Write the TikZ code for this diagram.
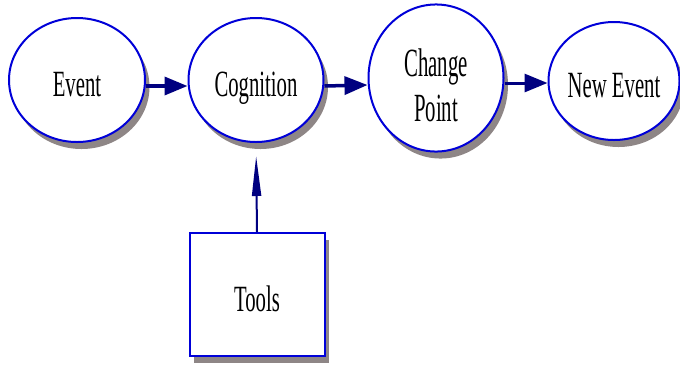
\documentclass[tikz,border=0pt]{standalone}
\usepackage{fontspec}
\setmainfont{Liberation Serif}
\newfontfamily\narrowserif[FakeStretch=0.56]{Liberation Serif}
\newfontfamily\narrowerserif[FakeStretch=0.52]{Liberation Serif}
\usetikzlibrary{shapes.geometric,shadows,arrows.meta,calc}

\definecolor{rimblue}{HTML}{0000D8}
\definecolor{flownavy}{HTML}{000080}
\definecolor{shadowgrey}{HTML}{8E8686}

\begin{document}
\begin{tikzpicture}[x=1pt,y=-1pt,
  boxshadow/.style={general shadow={fill=shadowgrey, shadow xshift=4.5pt, shadow yshift=-7pt}},
  % a tall fixed text box puts the capitals a little below each shape's centre
  labeltext/.style={font=\narrowserif\fontsize{37}{45}\selectfont, text=black,
    text height=42pt, text depth=9pt},
  stage/.style={ellipse, draw=rimblue, line width=2pt, fill=white, inner sep=0pt,
    boxshadow, labeltext},
  toolbox/.style={rectangle, draw=rimblue, line width=2pt, fill=white, inner sep=0pt,
    boxshadow, labeltext},
  flow/.style={draw=flownavy, line width=3.5pt, -{Triangle[length=23pt,width=18pt]}},
  feed/.style={draw=flownavy, line width=2pt, -{Triangle[length=40pt,width=9pt]}}
]
\useasboundingbox (0,0) rectangle (680,368);

\node[stage, minimum width=136pt, minimum height=124pt] (ev)  at (77,80)  {Event};
\node[stage, minimum width=135pt, minimum height=124pt] (cog) at (256,80) {Cognition};
\node[stage, minimum width=135pt, minimum height=143pt, align=center,
      font=\narrowerserif\fontsize{40}{45}\selectfont,
      text height=95pt, text depth=9pt] (chg) at (436,78) {Change\\Point};
\node[stage, minimum width=130pt, minimum height=118pt] (new) at (614,81) {New Event};
\node[toolbox, minimum width=135pt, minimum height=123pt] (tools) at (257,294.5) {Tools};

\draw[flow] ($(ev.east)+(0,6)$) -- ($(cog.west)+(0,6)$);
\draw[flow] ($(cog.east)+(0,6)$) -- ($(chg.west)+(0,7)$);
\draw[flow, line width=3pt] ($(chg.east)+(0,5)$) -- ($(new.west)+(0,2)$);
\draw[feed, shorten >=13pt] (tools.north) -- (cog.south);
\end{tikzpicture}
\end{document}
